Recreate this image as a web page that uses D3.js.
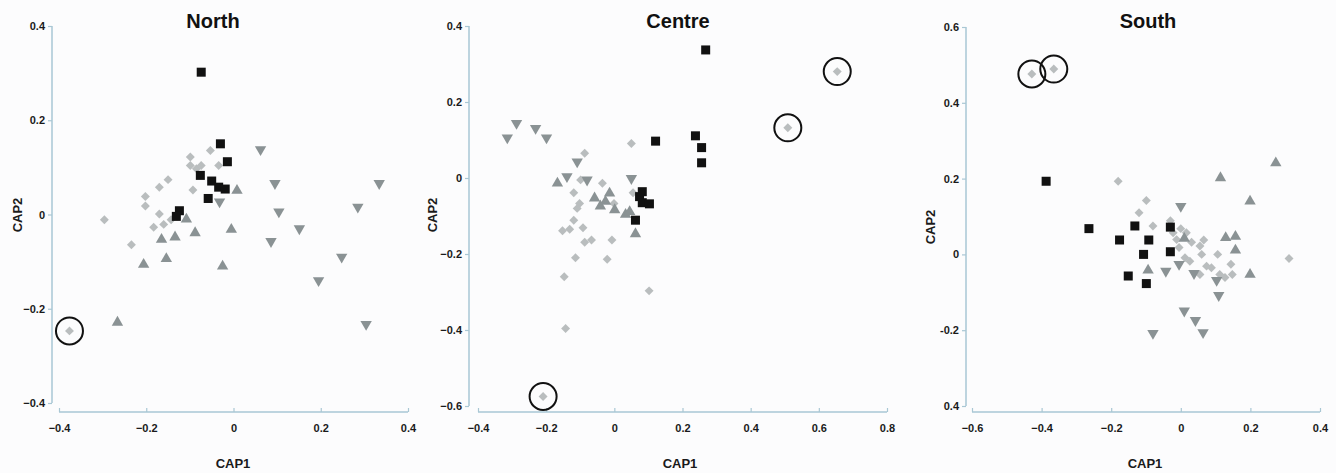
<!DOCTYPE html>
<html>
<head>
<meta charset="utf-8">
<script src="https://cdn.jsdelivr.net/npm/d3@7"></script>
<style>
  body { margin: 0; background: #fcfcfd; }
  svg { display: block; font-family: Arial, "Liberation Sans", sans-serif; }
</style>
</head>
<body>
<script>
// data, [CAP1, CAP2]
var northSquares = [[-0.074,0.302],[-0.030,0.150],[-0.014,0.112],[-0.076,0.083],[-0.050,0.071],[-0.034,0.058],[-0.019,0.054],[-0.058,0.034],[-0.124,0.008],[-0.131,-0.004]];
var northDown = [[0.062,0.138],[0.095,0.066],[0.334,0.066],[0.285,0.016],[0.104,0.006],[0.151,-0.030],[0.086,-0.057],[-0.032,0.027],[0.248,-0.090],[0.195,-0.140],[0.304,-0.233]];
var northUp = [[0.008,0.051],[-0.108,-0.010],[-0.088,-0.039],[-0.005,-0.032],[-0.165,-0.053],[-0.134,-0.048],[-0.154,-0.094],[-0.206,-0.106],[-0.025,-0.110],[-0.266,-0.229]];
var northDiamonds = [[-0.053,0.136],[-0.099,0.122],[-0.034,0.104],[-0.099,0.104],[-0.085,0.097],[-0.074,0.104],[-0.150,0.074],[-0.170,0.058],[-0.093,0.052],[-0.202,0.038],[-0.202,0.018],[-0.170,0.001],[-0.143,-0.011],[-0.160,-0.021],[-0.183,-0.027],[-0.296,-0.011],[-0.234,-0.064],[-0.376,-0.247]];
var northCircled = [[-0.376,-0.247]];

var centreSquares = [[0.268,0.337],[0.121,0.097],[0.238,0.111],[0.256,0.080],[0.256,0.040],[0.082,-0.036],[0.074,-0.049],[0.082,-0.065],[0.103,-0.068],[0.062,-0.111]];
var centreDown = [[-0.314,0.106],[-0.287,0.144],[-0.231,0.131],[-0.199,0.106],[-0.109,0.043],[-0.139,0.004],[-0.080,-0.005],[0.050,-0.001]];
var centreUp = [[-0.167,-0.014],[-0.058,-0.053],[-0.041,-0.074],[-0.014,-0.040],[-0.026,-0.062],[0.001,-0.084],[0.033,-0.096],[0.045,-0.089],[0.062,-0.147]];
var centreDiamonds = [[0.050,0.091],[-0.087,0.065],[-0.099,-0.005],[-0.035,-0.014],[-0.119,-0.039],[0.055,-0.039],[-0.102,-0.067],[-0.109,-0.080],[-0.001,-0.067],[-0.119,-0.111],[-0.131,-0.135],[-0.152,-0.139],[-0.092,-0.131],[-0.087,-0.169],[-0.067,-0.163],[-0.007,-0.163],[-0.114,-0.210],[-0.021,-0.214],[-0.147,-0.260],[0.102,-0.297],[-0.143,-0.396],[-0.209,-0.575],[0.509,0.132],[0.654,0.280]];
var centreCircled = [[-0.209,-0.575],[0.509,0.132],[0.654,0.280]];

var southSquares = [[-0.387,0.193],[-0.264,0.068],[-0.132,0.075],[-0.176,0.038],[-0.092,0.038],[-0.107,0.000],[-0.030,0.007],[-0.030,0.072],[-0.151,-0.057],[-0.099,-0.077]];
var southUp = [[0.273,0.241],[0.114,0.202],[0.199,0.140],[0.129,0.044],[0.157,0.047],[0.157,0.011],[0.199,-0.053],[0.010,0.042],[-0.094,-0.042]];
var southDown = [[0.000,0.127],[-0.043,-0.044],[-0.005,-0.026],[0.038,-0.050],[0.103,-0.068],[0.109,-0.108],[0.010,-0.149],[0.042,-0.174],[0.064,-0.206],[-0.080,-0.208]];
var southDiamonds = [[-0.180,0.193],[-0.099,0.142],[-0.120,0.110],[-0.080,0.075],[-0.030,0.089],[0.000,0.068],[-0.022,0.057],[0.016,0.057],[-0.012,0.039],[0.031,0.032],[0.066,0.038],[0.055,0.022],[-0.005,0.018],[0.060,0.000],[0.106,0.000],[0.012,-0.009],[0.026,-0.018],[0.144,-0.026],[0.074,-0.031],[0.088,-0.035],[0.055,-0.053],[0.112,-0.053],[0.127,-0.061],[0.148,-0.053],[0.311,-0.011],[-0.428,0.476],[-0.365,0.489]];
var southCircled = [[-0.428,0.476],[-0.365,0.489]];

// tick labels
var northXTicks = [-0.4, -0.2, 0, 0.2, 0.4];
var northYTicks = [0.4, 0.2, 0, -0.2, -0.4];
var centreXTicks = [-0.4, -0.2, 0, 0.2, 0.4, 0.6, 0.8];
var centreYTicks = [0.4, 0.2, 0, -0.2, -0.4, -0.6];
var southXTicks = [-0.6, -0.4, -0.2, 0, 0.2, 0.4];
var southYTicks = [0.6, 0.4, 0.2, 0, -0.2, -0.4];
var southYLabels = ["0.6", "0.4", "0.2", "0", "-0.2", "0.4"]; // bottom label is printed "0.4" in the original

var panels = [
  { title: "North", squares: northSquares, down: northDown, up: northUp, diamonds: northDiamonds, circled: northCircled,
    xTicks: northXTicks, yTicks: northYTicks, yLabels: null,
    xPix: [59, 408], yPix: [26, 403], axisX: 52, axisY: 412, titleX: 213, capX: 233, cap2X: 17, cap2Y: 215 },
  { title: "Centre", squares: centreSquares, down: centreDown, up: centreUp, diamonds: centreDiamonds, circled: centreCircled,
    xTicks: centreXTicks, yTicks: centreYTicks, yLabels: null,
    xPix: [478, 887], yPix: [26, 406], axisX: 469, axisY: 412, titleX: 678, capX: 680, cap2X: 432, cap2Y: 215 },
  { title: "South", squares: southSquares, down: southDown, up: southUp, diamonds: southDiamonds, circled: southCircled,
    xTicks: southXTicks, yTicks: southYTicks, yLabels: southYLabels,
    xPix: [972, 1320], yPix: [27, 406], axisX: 966, axisY: 412, titleX: 1148, capX: 1145, cap2X: 930, cap2Y: 227 }
];

var width = 1336, height = 473;
var axisColor = "#a9c7d4";

var svg = d3.select("body").append("svg")
  .attr("width", width)
  .attr("height", height);

svg.append("rect").attr("width", width).attr("height", height).attr("fill", "#fcfcfd");

var triUp = d3.symbol().type(d3.symbolTriangle).size(56);
var diamond = d3.symbol().type(d3.symbolSquare).size(40); // roteras 45 grader

panels.forEach(function(p) {
  var xScale = d3.scaleLinear()
    .domain([p.xTicks[0], p.xTicks[p.xTicks.length - 1]])
    .range(p.xPix);
  var yScale = d3.scaleLinear()
    .domain([p.yTicks[0], p.yTicks[p.yTicks.length - 1]])
    .range(p.yPix);

  var g = svg.append("g");

  // x-axel
  var xAxis = d3.axisBottom(xScale)
    .tickValues(p.xTicks)
    .tickSize(-4)
    .tickPadding(12)
    .tickFormat(d3.format("~g"));
  var gx = g.append("g")
    .attr("transform", "translate(0," + p.axisY + ")")
    .call(xAxis);

  // y-axel
  var yAxis = d3.axisLeft(yScale)
    .tickValues(p.yTicks)
    .tickSize(4)
    .tickPadding(3)
    .tickFormat(function(d, i) { return p.yLabels ? p.yLabels[i] : d3.format("~g")(d); });
  var gy = g.append("g")
    .attr("transform", "translate(" + p.axisX + ",0)")
    .call(yAxis);

  [gx, gy].forEach(function(a) {
    a.select(".domain").attr("stroke", axisColor).attr("stroke-width", 1.5);
    a.selectAll(".tick line").attr("stroke", axisColor).attr("stroke-width", 1.2);
    a.selectAll(".tick text")
      .attr("fill", "#1a1a1a")
      .attr("font-size", 11)
      .attr("font-weight", "bold");
  });
  gx.select(".domain").attr("d", "M" + p.xPix[0] + ",0H" + p.xPix[1]);
  gy.select(".domain").attr("d", "M0," + p.yPix[0] + "V" + p.yPix[1]);

  // titlar
  g.append("text")
    .attr("x", p.titleX).attr("y", 28)
    .attr("text-anchor", "middle")
    .attr("font-size", 20).attr("font-weight", "bold")
    .attr("fill", "#111")
    .text(p.title);

  g.append("text")
    .attr("x", p.capX).attr("y", 468)
    .attr("text-anchor", "middle")
    .attr("font-size", 13).attr("font-weight", "bold")
    .attr("fill", "#1a1a1a")
    .text("CAP1");

  g.append("text")
    .attr("transform", "translate(" + (p.cap2X + 5) + "," + p.cap2Y + ") rotate(-90)")
    .attr("text-anchor", "middle")
    .attr("font-size", 13).attr("font-weight", "bold")
    .attr("fill", "#1a1a1a")
    .text("CAP2");

  // punkter
  g.selectAll(".diamond").data(p.diamonds).enter().append("path")
    .attr("d", diamond)
    .attr("transform", function(d) { return "translate(" + xScale(d[0]) + "," + yScale(d[1]) + ") rotate(45)"; })
    .attr("fill", "#b9bdbe");

  g.selectAll(".up").data(p.up).enter().append("path")
    .attr("d", triUp)
    .attr("transform", function(d) { return "translate(" + xScale(d[0]) + "," + yScale(d[1]) + ")"; })
    .attr("fill", "#8a9294");

  g.selectAll(".down").data(p.down).enter().append("path")
    .attr("d", triUp)
    .attr("transform", function(d) { return "translate(" + xScale(d[0]) + "," + yScale(d[1]) + ") rotate(180)"; })
    .attr("fill", "#8a9294");

  g.selectAll(".sq").data(p.squares).enter().append("rect")
    .attr("x", function(d) { return xScale(d[0]) - 4.5; })
    .attr("y", function(d) { return yScale(d[1]) - 4.5; })
    .attr("width", 9).attr("height", 9)
    .attr("fill", "#111");

  g.selectAll(".ring").data(p.circled).enter().append("circle")
    .attr("cx", function(d) { return xScale(d[0]); })
    .attr("cy", function(d) { return yScale(d[1]); })
    .attr("r", 13.5)
    .attr("fill", "none")
    .attr("stroke", "#111")
    .attr("stroke-width", 2);
});
</script>
</body>
</html>
